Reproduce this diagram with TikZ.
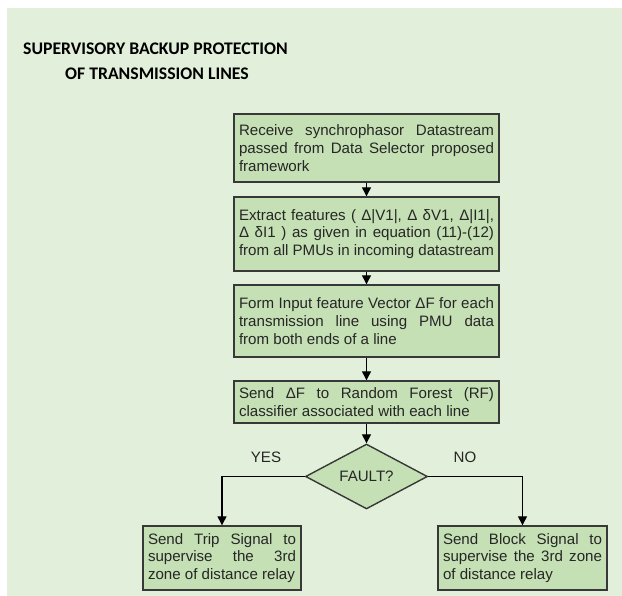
\documentclass[tikz,border=0pt]{standalone}
\usepackage{fontspec}
\setmainfont{Liberation Sans}
\newfontfamily\titlefont{Carlito}
\usetikzlibrary{shapes.geometric,arrows.meta}
\definecolor{pagebg}{HTML}{E2EFDA}
\definecolor{boxfill}{HTML}{C5E0B4}
\definecolor{boxline}{HTML}{383838}
\definecolor{boxtext}{HTML}{262626}
\hyphenpenalty=10000
\exhyphenpenalty=10000
\tolerance=10000
\begin{document}
\begin{tikzpicture}[x=1pt,y=-1pt,
  stepbox/.style={draw=boxline, fill=boxfill, line width=1.4pt, inner xsep=5pt, inner ysep=0pt,
    align=justify, text=boxtext, font=\fontsize{15.1}{17.7}\selectfont},
  decision/.style={diamond, draw=boxline, fill=boxfill, line width=1.4pt, inner sep=0pt,
    minimum width=122pt, minimum height=63pt, text=boxtext, font=\fontsize{15.1}{17.7}\selectfont},
  flow/.style={line width=1.3pt, black, -{Triangle[length=9pt,width=9pt]}},
  branch/.style={text=boxtext, font=\fontsize{15.1}{17.7}\selectfont, inner sep=0pt},
  heading/.style={anchor=base west, inner sep=0pt, font=\titlefont\bfseries\fontsize{17.7}{22}\selectfont}
]
\useasboundingbox (0,0) rectangle (622,596);
\fill[pagebg] (7,8) rectangle (622,596);

% title
\node[heading] (title1) at (23,55) {SUPERVISORY BACKUP PROTECTION};
\node[heading] (title2) at (65,80) {OF TRANSMISSION LINES};

% main chain
\node[stepbox, text width=255pt, minimum height=68pt] (receive) at (366.5,148)
  {Receive synchrophasor Datastream\linebreak passed from Data Selector proposed\linebreak framework};
\node[stepbox, text width=255pt, minimum height=74pt] (extract) at (366.5,234)
  {Extract features ( Δ|V1|, Δ δV1, Δ|I1|,\linebreak
   Δ δI1 ) as given in equation (11)-(12)\linebreak from all PMUs in incoming datastream};
\node[stepbox, text width=255pt, minimum height=72pt] (form) at (366.5,321)
  {Form Input feature Vector ΔF for each\linebreak transmission line using PMU data\linebreak from both ends of a line};
\node[stepbox, text width=255pt, minimum height=42pt] (send) at (366.5,402)
  {Send ΔF to Random Forest (RF)\linebreak classifier associated with each line};
\node[decision] (fault) at (366.5,476.5) {FAULT?};

% outcomes
\node[stepbox, text width=148pt, minimum height=64pt] (trip) at (222,558)
  {Send Trip Signal to\linebreak supervise the 3rd\linebreak zone of distance relay};
\node[stepbox, text width=159pt, minimum height=64pt] (block) at (522.5,558)
  {Send Block Signal to\linebreak supervise the 3rd zone\linebreak of distance relay};

\node[branch] (yes) at (266,457) {YES};
\node[branch] (no) at (465,457) {NO};

% connectors
\draw[flow] (receive.south) -- (extract.north);
\draw[flow] (extract.south) -- (form.north);
\draw[flow] (form.south) -- (send.north);
\draw[flow] (send.south) -- (fault.north);
\draw[flow] (fault.west) -| (trip.north);
\draw[flow] (fault.east) -| (block.north);
\end{tikzpicture}
\end{document}
